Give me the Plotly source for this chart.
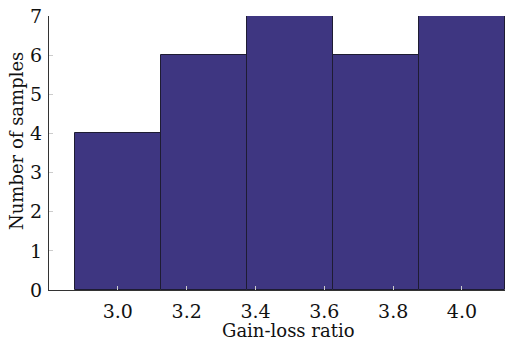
import plotly.graph_objects as go

bin_centers = [3.0, 3.25, 3.5, 3.75, 4.0]
counts = [4, 6, 7, 6, 7]
bin_width = 0.25
x_ticks = [3.0, 3.2, 3.4, 3.6, 3.8, 4.0]
x_tick_labels = ["3.0", "3.2", "3.4", "3.6", "3.8", "4.0"]
y_ticks = [0, 1, 2, 3, 4, 5, 6, 7]

font_family = "DejaVu Serif"
W, H = 505, 341
# plot area in screen pixels: left 49, top 16, right 505, bottom 290
L, T, R, B = 49, 16, 0, 51
PW, PH = W - L - R, H - T - B

def px_x(sx):
    return (sx - L) / PW

def px_y(sy):
    return (H - B - sy) / PH

fig = go.Figure()
fig.add_trace(go.Bar(
    x=bin_centers, y=counts, width=[bin_width] * len(counts),
    marker=dict(color="#3e3681", line=dict(color="#1e1c33", width=1)),
))

fig.update_layout(
    width=W, height=H,
    margin=dict(l=L, r=R, t=T, b=B, autoexpand=False),
    paper_bgcolor="white", plot_bgcolor="white",
    showlegend=False,
    bargap=0,
    font=dict(family=font_family, size=19, color="#111"),
    xaxis=dict(
        range=[2.8, 4.125], tickvals=x_ticks, ticktext=x_tick_labels,
        showgrid=False, zeroline=False, showline=True, linecolor="#333", linewidth=1,
        ticks="inside", ticklen=4, tickcolor="#ccc", automargin=False,
        ticklabelstandoff=4,
    ),
    yaxis=dict(
        range=[0, 7], tickvals=y_ticks,
        showgrid=False, zeroline=False, showline=True, linecolor="#333", linewidth=1,
        ticks="inside", ticklen=4, tickcolor="#ccc", automargin=False,
        ticklabelstandoff=2,
    ),
    annotations=[
        dict(text="Gain-loss ratio", xref="paper", yref="paper",
             x=px_x(288), y=px_y(330),
             xanchor="center", yanchor="middle", showarrow=False,
             font=dict(size=18, family=font_family, color="#111")),
        dict(text="Number of samples", xref="paper", yref="paper",
             x=px_x(16), y=px_y(141),
             xanchor="center", yanchor="middle", textangle=-90, showarrow=False,
             font=dict(size=18, family=font_family, color="#111")),
    ],
)

fig.write_html(
    "out.html",
    config={"displayModeBar": False},
    post_script="document.body.style.margin='0';document.body.style.overflow='hidden';",
)
